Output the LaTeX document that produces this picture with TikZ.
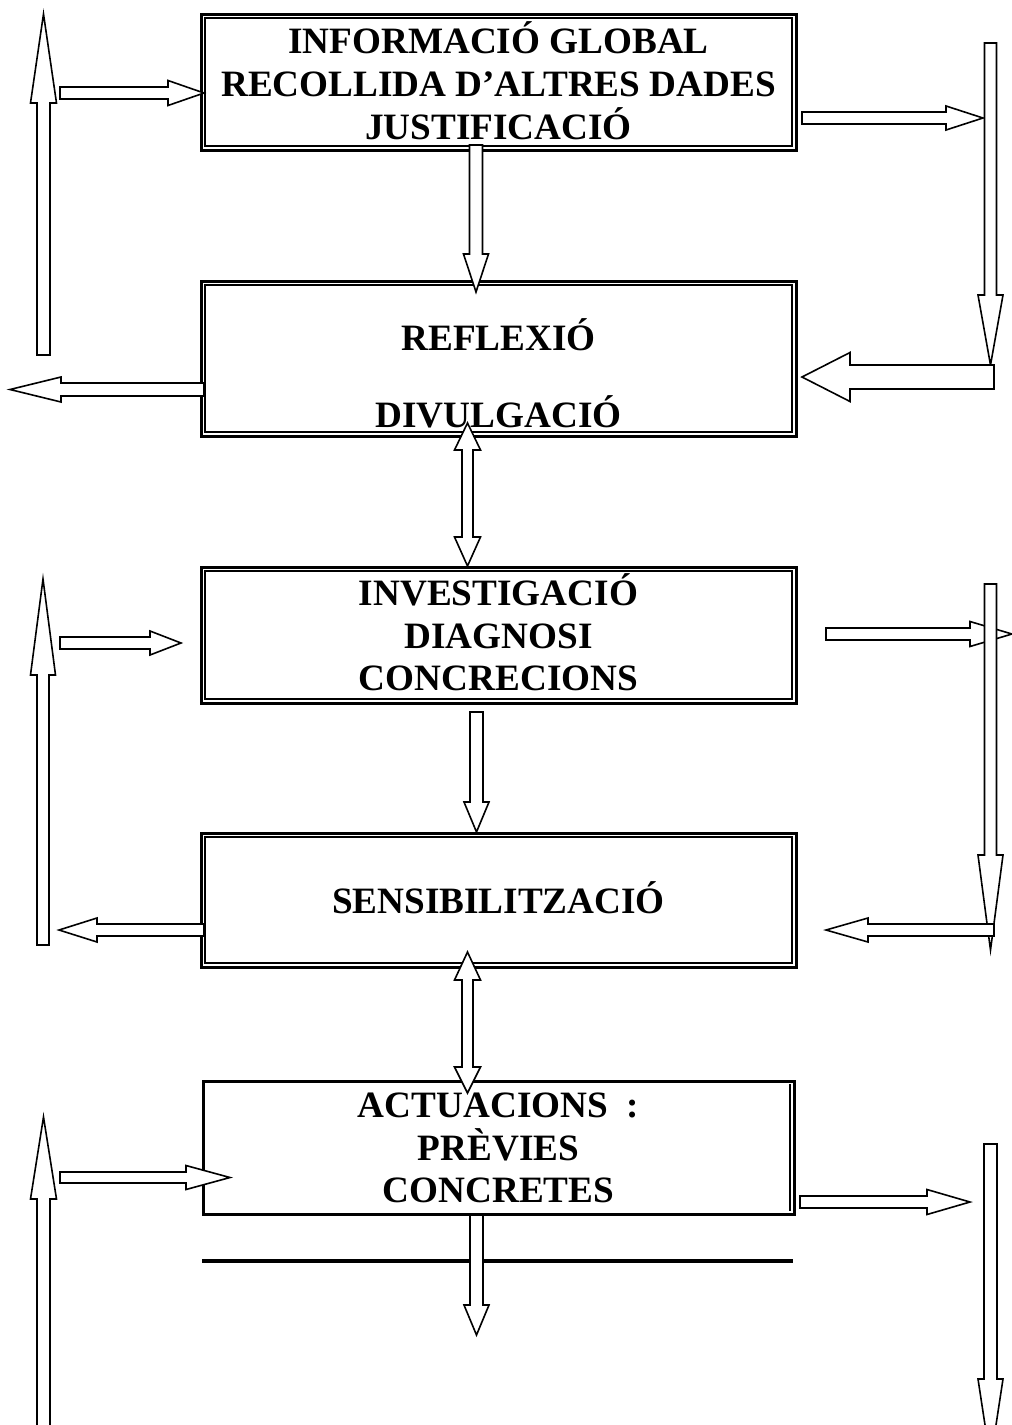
\documentclass[tikz,border=0pt]{standalone}
\usepackage{fontspec}
\setmainfont{Liberation Serif}
\newcommand\mybox[5]{\node[boxo, minimum width={(#4-#2)*0.5pt}, minimum height={(#5-#3)*0.5pt}] (#1) at ({(#2+#4)/2},{(#3+#5)/2}) {};}
\newcommand\innerbox[1]{\draw[boxi] ([shift={(4,4)}]#1.north west) rectangle ([shift={(-4,-4)}]#1.south east);}
% horizontal block arrow: tail x, head-base x, tip x, y, shaft half, head half
\newcommand\harr[6]{\draw[blk] (#1,#4-#5) -- (#2,#4-#5) -- (#2,#4-#6) -- (#3,#4) -- (#2,#4+#6) -- (#2,#4+#5) -- (#1,#4+#5) -- cycle;}
% vertical block arrow: tail y, head-base y, tip y, x, shaft half, head half
\newcommand\varr[6]{\draw[blk] (#4-#5,#1) -- (#4-#5,#2) -- (#4-#6,#2) -- (#4,#3) -- (#4+#6,#2) -- (#4+#5,#2) -- (#4+#5,#1) -- cycle;}
% double vertical block arrow: top tip, top base, bottom base, bottom tip, x, shaft half, head half
\newcommand\dvarr[7]{\draw[blk] (#5,#1) -- (#5+#7,#2) -- (#5+#6,#2) -- (#5+#6,#3) -- (#5+#7,#3) -- (#5,#4) -- (#5-#7,#3) -- (#5-#6,#3) -- (#5-#6,#2) -- (#5-#7,#2) -- cycle;}
\begin{document}
\begin{tikzpicture}[x=0.5pt,y=-0.5pt,
  boxo/.style={draw, line width=1.5pt, inner sep=0pt, outer sep=0pt},
  boxi/.style={line width=0.65pt},
  lbl/.style={font=\fontsize{18.6}{21.5}\selectfont\bfseries, anchor=base, inner sep=0pt},
  blk/.style={draw, fill=white, line width=0.8pt, line join=miter},
  rule/.style={line width=1.6pt}]
\useasboundingbox (0,0) rectangle (1012,1425);
\clip (0,0) rectangle (1012,1425);

% boxes
\mybox{b1}{201}{14}{796}{150}
\innerbox{b1}
\mybox{b2}{201}{281}{796}{436}
\innerbox{b2}
\mybox{b3}{201}{567}{796}{703}
\innerbox{b3}
\mybox{b4}{201}{833}{796}{967}
\innerbox{b4}
\mybox{b5}{203}{1081}{794}{1214}
\draw[boxi] ([shift={(-4,3)}]b5.north east) coordinate (b5r1) -- ([shift={(-4,-3)}]b5.south east) coordinate (b5r2);

% texts
\node[lbl] (t1a) at (498.5,53) {INFORMACIÓ GLOBAL};
\node[lbl] (t1b) at (498.5,96) {RECOLLIDA D’ALTRES DADES};
\node[lbl] (t1c) at (498.5,139) {JUSTIFICACIÓ};
\node[lbl] (t2a) at (498.5,350) {REFLEXIÓ};
\node[lbl] (t2b) at (498.5,427) {DIVULGACIÓ};
\node[lbl] (t3a) at (498.5,605) {INVESTIGACIÓ};
\node[lbl] (t3b) at (498.5,648) {DIAGNOSI};
\node[lbl] (t3c) at (498.5,690) {CONCRECIONS};
\node[lbl] (t4a) at (498.5,913) {SENSIBILITZACIÓ};
\node[lbl] (t5a) at (498.5,1117) {ACTUACIONS\ \ :};
\node[lbl] (t5b) at (498.5,1160) {PRÈVIES};
\node[lbl] (t5c) at (498.5,1202) {CONCRETES};

% horizontal rule
\coordinate (r1) at (202,1261);
\coordinate (r2) at (793,1261);
\draw[rule] (r1) -- (r2);

% left column
\varr{355}{103}{14}{43.5}{6.5}{13}
\harr{60}{168}{204}{93}{6}{12.5}
\harr{204}{61}{10}{389.5}{6.5}{12.5}
\varr{945}{675}{579}{43}{6}{12.5}
\harr{60}{150}{181}{643}{6}{12}
\harr{204}{97}{59}{930}{6}{12}
\varr{1440}{1199}{1117}{43.5}{6.5}{13}
\harr{60}{186}{230}{1177.5}{5.5}{12}

% centre column
\varr{145}{254}{292}{476}{6.5}{12.5}
\dvarr{423}{450}{537}{566}{467.5}{5.5}{13}
\varr{712}{802}{832}{476.5}{6.5}{12.5}
\dvarr{952}{980}{1067}{1093}{467.5}{5.5}{13}
\varr{1215}{1305}{1335}{476.5}{6.5}{12.5}

% right column
\harr{802}{946}{983}{118}{6}{12}
\varr{43}{295}{365}{990.5}{6}{12.5}
\harr{994}{850}{802}{377}{12}{24.5}
\harr{826}{970}{1012}{634}{6}{12.5}
\varr{584}{855}{950}{990.5}{6}{12.5}
\harr{994}{868}{826}{930}{6}{12}
\harr{800}{927}{970}{1202}{6}{12.5}
\varr{1144}{1379}{1461}{990.5}{6.5}{12.5}
\end{tikzpicture}
\end{document}
